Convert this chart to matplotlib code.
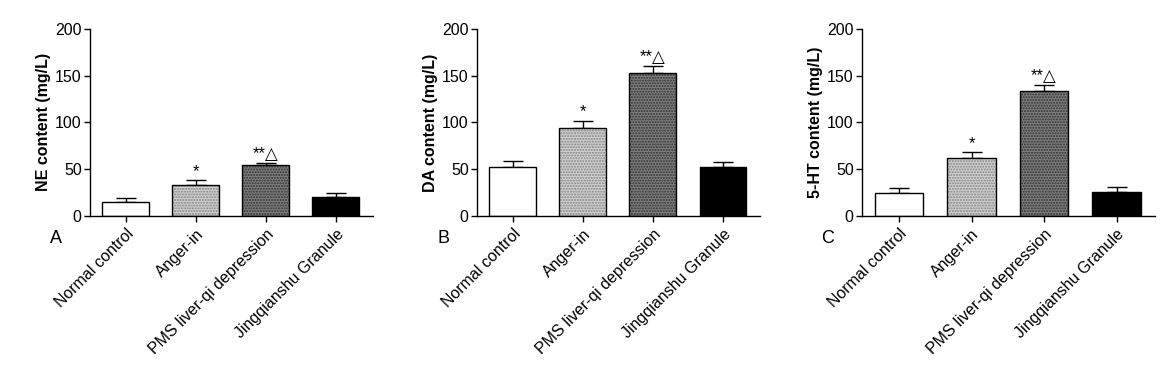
import numpy as np
import matplotlib
matplotlib.use("Agg")
import matplotlib.pyplot as plt

plt.rcParams['font.family'] = ['Liberation Sans', 'DejaVu Sans']
plt.rcParams['hatch.linewidth'] = 1.0

groups = ["Normal control", "Anger-in", "PMS liver-qi depression", "Jingqianshu Granule"]

ne_mean = [15, 33, 54, 20]
ne_err = [4, 5, 3, 4]
da_mean = [52, 94, 153, 52]
da_err = [7, 8, 7, 6]
ht_mean = [24, 62, 134, 26]
ht_err = [6, 6, 6, 5]

marks = ["", "*", "**\u25b3", ""]
ylabels = ["NE content (mg/L)", "DA content (mg/L)", "5-HT content (mg/L)"]
letters = ["A", "B", "C"]

faces = ["white", "#d2d2d2", "#808080", "black"]
dot_colors = [None, "#808080", "#2e2e2e", None]

fig = plt.figure(figsize=(11.73, 3.66), dpi=100)
boxes = [[0.0767, 0.41, 0.2413, 0.511],
         [0.4067, 0.41, 0.2413, 0.511],
         [0.7349, 0.41, 0.2498, 0.511]]

data = [(ne_mean, ne_err), (da_mean, da_err), (ht_mean, ht_err)]
x = np.arange(len(groups))

for i, (means, errs) in enumerate(data):
    ax = fig.add_axes(boxes[i])
    for j in range(len(groups)):
        ax.bar(x[j], means[j], width=0.67, color=faces[j], linewidth=0, zorder=2)
        if dot_colors[j]:
            # dotted texture layer
            ax.bar(x[j], means[j], width=0.67, color="none", edgecolor=dot_colors[j],
                   linewidth=0, hatch="......", zorder=2)
        ax.bar(x[j], means[j], width=0.67, color="none", edgecolor="black",
               linewidth=1.0, zorder=3)
        ax.errorbar(x[j], means[j], yerr=[[0], [errs[j]]], fmt="none",
                    ecolor="black", elinewidth=1.0, capsize=7, capthick=1.0, zorder=1)
        if marks[j]:
            ax.text(x[j], means[j] + errs[j] + 1, marks[j], ha="center", va="bottom",
                    fontsize=12)
    ax.set_xlim(-0.51, 3.53)
    ax.set_ylim(0, 200)
    ax.set_yticks([0, 50, 100, 150, 200])
    ax.set_xticks(x)
    ax.set_xticklabels(groups, rotation=45, ha="right", rotation_mode="anchor", fontsize=11.5)
    ax.tick_params(axis="y", labelsize=11.5, length=4, width=1, pad=2)
    ax.tick_params(axis="x", length=4, width=1)
    ax.set_ylabel(ylabels[i], fontsize=11.5, fontweight="bold", labelpad=3)
    for s in ["top", "right"]:
        ax.spines[s].set_visible(False)
    for s in ["left", "bottom"]:
        ax.spines[s].set_linewidth(1.0)
    ax.text(-0.14, -0.075, letters[i], transform=ax.transAxes, fontsize=13,
            ha="left", va="top")

fig.savefig("out.png", dpi=100, facecolor="white")
